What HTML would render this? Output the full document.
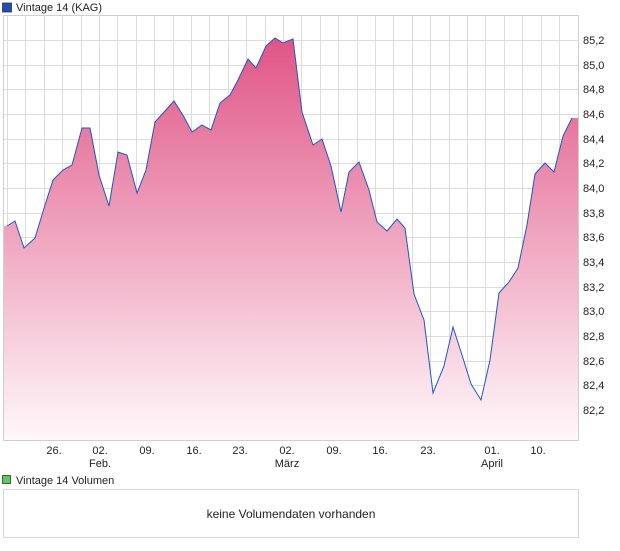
<!DOCTYPE html>
<html><head><meta charset="utf-8"><style>
body{margin:0;background:#fff;width:620px;height:546px;overflow:hidden;font-family:"Liberation Sans",sans-serif}
</style></head><body>
<svg width="620" height="546" xmlns="http://www.w3.org/2000/svg" font-family="Liberation Sans, sans-serif" font-size="11" fill="#222">
<defs><linearGradient id="g" x1="0" y1="0" x2="0" y2="1">
<stop offset="0" stop-color="#e05585"/><stop offset="1" stop-color="#fff8fb"/></linearGradient></defs>
<rect x="2.5" y="3" width="9" height="9" fill="#1f4fb5" stroke="#333" stroke-width="0.8"/>
<text x="16" y="11" font-size="11">Vintage 14 (KAG)</text>
<g stroke="#dcdcdc" stroke-width="1">
<path d="M7.5 16V440M25.5 16V440M44.5 16V440M62.5 16V440M81.5 16V440M99.5 16V440M117.5 16V440M136.5 16V440M154.5 16V440M173.5 16V440M191.5 16V440M209.5 16V440M228.5 16V440M246.5 16V440M265.5 16V440M283.5 16V440M301.5 16V440M320.5 16V440M338.5 16V440M357.5 16V440M375.5 16V440M393.5 16V440M412.5 16V440M430.5 16V440M449.5 16V440M467.5 16V440M485.5 16V440M504.5 16V440M522.5 16V440M541.5 16V440M559.5 16V440"/>
<path d="M3 40.5H579M3 65.5H579M3 89.5H579M3 114.5H579M3 139.5H579M3 163.5H579M3 188.5H579M3 213.5H579M3 237.5H579M3 262.5H579M3 287.5H579M3 311.5H579M3 336.5H579M3 361.5H579M3 385.5H579M3 410.5H579"/>
</g>
<path fill="url(#g)" d="M7 226L15 221L24 248L35 238L45 205L53 180L63 170L72 165L82 128L90 128L99 175L109 206L118 152L127 155L137 193L146 170L155 122L165 111L174 101L184 117L192 132L202 125L211 130L220 103L230 95L238 80L248 59L256 68L266 46L275 38L283 43L293 39L302 112L313 145L322 139L331 166L341 212L349 172L359 162L369 190L377 222L387 231L397 219L405 228L414 294L424 320L433 393L444 366L453 327L462 355L471 384L481 400L490 360L499 293L509 282L518 268L527 225L535 174L545 163L554 172L563 136L572 118L578 118L578 440L3 440L3 226Z"/>
<path fill="none" stroke="#1f55c8" stroke-width="1" d="M7 226L15 221L24 248L35 238L45 205L53 180L63 170L72 165L82 128L90 128L99 175L109 206L118 152L127 155L137 193L146 170L155 122L165 111L174 101L184 117L192 132L202 125L211 130L220 103L230 95L238 80L248 59L256 68L266 46L275 38L283 43L293 39L302 112L313 145L322 139L331 166L341 212L349 172L359 162L369 190L377 222L387 231L397 219L405 228L414 294L424 320L433 393L444 366L453 327L462 355L471 384L481 400L490 360L499 293L509 282L518 268L527 225L535 174L545 163L554 172L563 136L572 118"/>
<rect x="3.5" y="15.5" width="575" height="425" fill="none" stroke="#cfcfcf"/>
<g font-size="11">
<text x="583" y="44">85,2</text><text x="583" y="69">85,0</text><text x="583" y="93">84,8</text><text x="583" y="118">84,6</text><text x="583" y="167">84,2</text><text x="583" y="143">84,4</text><text x="583" y="192">84,0</text><text x="583" y="217">83,8</text><text x="583" y="241">83,6</text><text x="583" y="266">83,4</text><text x="583" y="291">83,2</text><text x="583" y="315">83,0</text><text x="583" y="340">82,8</text><text x="583" y="365">82,6</text><text x="583" y="389">82,4</text><text x="583" y="414">82,2</text>
</g>
<g font-size="11" text-anchor="middle">
<text x="54" y="454">26.</text><text x="100" y="454">02.</text><text x="100" y="467">Feb.</text><text x="147" y="454">09.</text><text x="194" y="454">16.</text><text x="240" y="454">23.</text><text x="287" y="454">02.</text><text x="287" y="467">März</text><text x="334" y="454">09.</text><text x="380" y="454">16.</text><text x="428" y="454">23.</text><text x="492" y="454">01.</text><text x="492" y="467">April</text><text x="538" y="454">10.</text>
</g>
<rect x="2.5" y="475.5" width="8" height="8" fill="#5ccc5c" stroke="#333" stroke-width="0.8"/>
<text x="16" y="484" font-size="11">Vintage 14 Volumen</text>
<rect x="3.5" y="489.5" width="575" height="48" fill="#fff" stroke="#d6d6d6"/>
<text x="291" y="518" font-size="12" text-anchor="middle">keine Volumendaten vorhanden</text>
</svg>
</body></html>
